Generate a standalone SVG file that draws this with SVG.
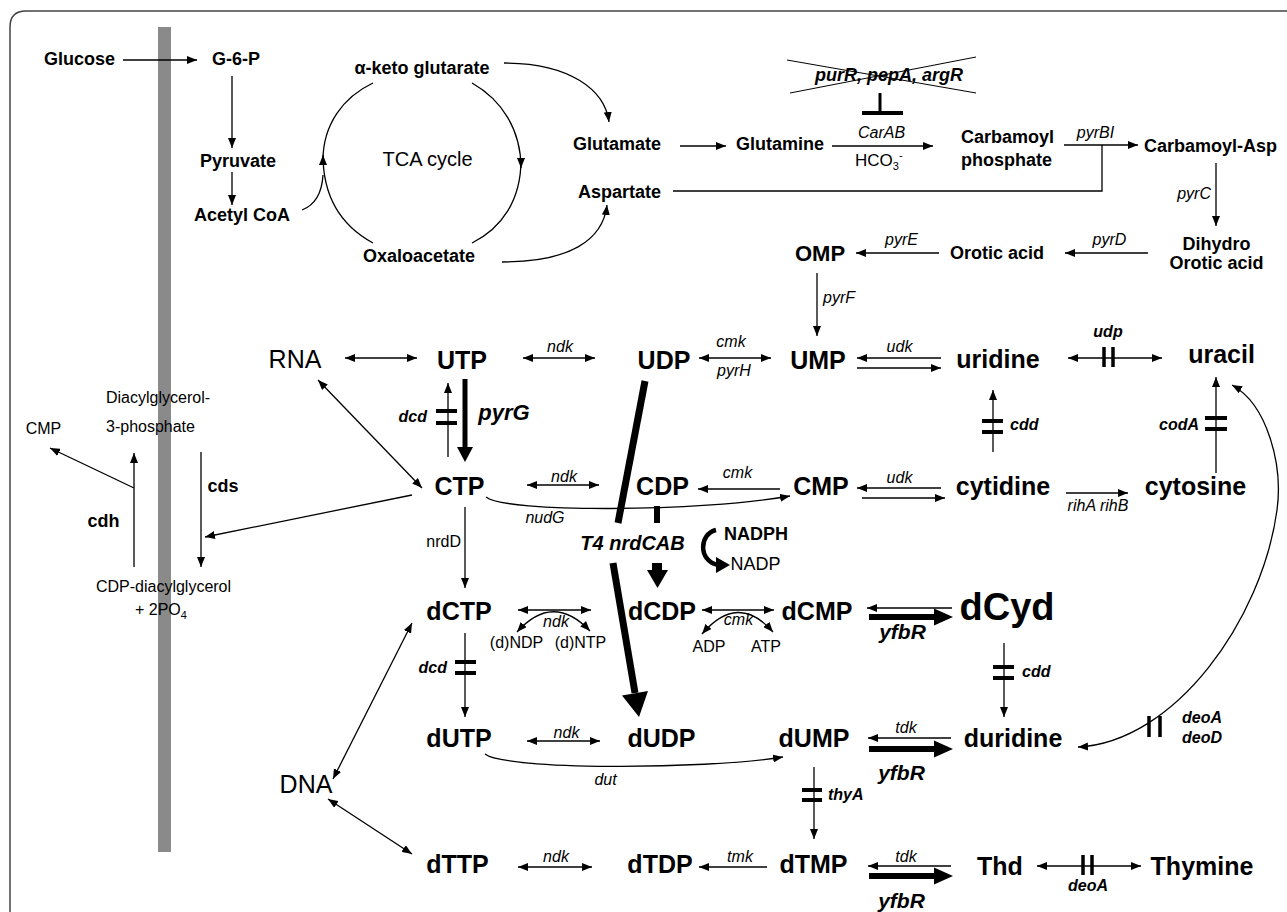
<svg xmlns="http://www.w3.org/2000/svg" width="1287" height="912" viewBox="0 0 1287 912">
<defs>
<marker id="ah" viewBox="0 0 10 8" refX="10" refY="4" markerWidth="10" markerHeight="8" markerUnits="userSpaceOnUse" orient="auto-start-reverse"><path d="M0,0L10,4L0,8z" fill="#000"/></marker>
<style>
text{font-family:"Liberation Sans",Arial,sans-serif;fill:#000}
.n{font-size:25px;font-weight:bold;text-anchor:middle}
.m{font-size:18px;font-weight:bold;text-anchor:middle}
.e{font-size:16px;font-style:italic;text-anchor:middle}
.eb{font-size:16px;font-style:italic;font-weight:bold}
.r{font-size:16px}
.big{font-size:25px;text-anchor:middle}
.c{stroke:#000;stroke-width:1.3;fill:none}
.a{marker-end:url(#ah)}
.d{marker-start:url(#ah);marker-end:url(#ah)}
.bar{stroke:#000;stroke-width:4;fill:none}
.vbar{stroke:#000;stroke-width:3.5;fill:none}
.thick{stroke:#000;fill:none}
</style>
</defs>
<rect width="1287" height="912" fill="#fff"/>
<path d="M10,912 L10,27 Q10,11 26,11 L1287,11" fill="none" stroke="#444" stroke-width="1.5"/>
<rect id="membrane" x="158" y="27" width="13" height="825" fill="#8a8a8a"/>

<g id="connectors">
<path class="c a" d="M123,60 H197"/>
<path class="c a" d="M232,76 V148"/>
<path class="c a" d="M232,172 V205"/>
<path class="c" d="M302,210 C315,205 322,192 323,175"/>
<path class="c a" d="M373,243 C340,225 323,195 323,155"/>
<path class="c" d="M323,160 C323,125 343,97 373,83"/>
<path class="c a" d="M472,83 C502,100 521,130 521,168"/>
<path class="c" d="M521,160 C521,200 502,228 472,243"/>
<path class="c a" d="M504,63 C570,63 605,90 609,122"/>
<path class="c a" d="M502,262 C570,262 603,240 607,205"/>
<path class="c a" d="M680,146 H726"/>
<path class="c a" d="M832,146 H933"/>
<path class="c a" d="M1064,145 H1138"/>
<path class="c" d="M673,191 H1102 V145"/>
<path class="c a" d="M1216,163 V226"/>
<path class="c a" d="M1148,253 H1065"/>
<path class="c a" d="M939,253 H856"/>
<path class="c a" d="M817,273 V336"/>
<!-- inhibition -->
<path d="M787,60 L976,93 M790,93 L976,57" stroke="#000" stroke-width="1" fill="none"/>
<path d="M880,93 V112" stroke="#000" stroke-width="3" fill="none"/>
<path d="M862,113 H903" stroke="#000" stroke-width="4" fill="none"/>
<!-- row 1 -->
<path class="c d" d="M345,358 H417"/>
<path class="c d" d="M523,358 H595"/>
<path class="c d" d="M699,358 H771"/>
<path class="c a" d="M941,358 H857"/>
<path class="c a" d="M857,368 H941"/>
<path class="c d" d="M1068,358 H1162"/>
<path class="vbar" d="M1104,347 V367 M1113,347 V367"/>
<path class="c d" d="M318,380 L422,488"/>
<path class="c a" d="M412,495 L205,537"/>
<path class="c a" d="M134,567 V453"/>
<path class="c a" d="M134,488 L50,448"/>
<path class="c a" d="M201,452 V567"/>
<!-- UTP/CTP -->
<path class="c a" d="M448,457 V383"/>
<path class="bar" d="M436,411 H457 M436,423 H457"/>
<path class="thick" stroke-width="5" d="M465,379 V449"/>
<polygon points="457,447 473,447 465,462" fill="#000"/>
<path class="thick" stroke-width="7" d="M645,381 L618,523"/>
<path class="thick" stroke-width="7" d="M613,563 L635,693"/>
<polygon points="622,695.5 648,691 639,717" fill="#000"/>
<path class="c d" d="M527,485 H599"/>
<path class="c a" d="M780,489 H698"/>
<path class="c a" d="M486,497 C505,513 700,512 790,496"/>
<path class="thick" stroke-width="6" d="M657,506 V523"/>
<rect x="652" y="563" width="10" height="8" fill="#000"/>
<polygon points="647,570 668,570 657.5,588" fill="#000"/>
<path class="thick" stroke-width="4.5" d="M716,530 C699,534 698,561 718,565"/>
<polygon points="716,557 730,565 716,573" fill="#000"/>
<path class="c a" d="M993,452 V390"/>
<path class="bar" d="M982,421 H1003 M982,432 H1003"/>
<path class="c a" d="M1216,473 V377"/>
<path class="bar" d="M1205,418 H1227 M1205,429 H1227"/>
<path class="c a" d="M941,488 H857"/>
<path class="c a" d="M862,498 H945"/>
<path class="c a" d="M1066,493 H1128"/>
<path class="c a" d="M465,507 V588"/>
<!-- dCTP row -->
<path class="c d" d="M518,610 H591"/>
<path class="c d" d="M517,632 Q553,592 590,631"/>
<path class="c d" d="M702,610 H774"/>
<path class="c d" d="M702,634 Q738,592 773,632"/>
<path class="c a" d="M952,608 H867"/>
<path class="thick" stroke-width="6" d="M869,617 H936"/>
<polygon points="934,608.5 953,617 934,625.5" fill="#000"/>
<path class="c a" d="M1004,643 V717"/>
<path class="bar" d="M993,667 H1014 M993,678 H1014"/>
<path class="c a" d="M465,633 V717"/>
<path class="bar" d="M455,662 H476 M455,673 H476"/>
<!-- dUTP row -->
<path class="c d" d="M527,741 H600"/>
<path class="c a" d="M485,754 C505,770 700,770 783,757"/>
<path class="c a" d="M814,767 V839"/>
<path class="bar" d="M802,790 H822 M802,800 H822"/>
<path class="c a" d="M951,738 H868"/>
<path class="thick" stroke-width="6" d="M869,749 H936"/>
<polygon points="934,740.5 953,749 934,757.5" fill="#000"/>
<path class="c d" d="M1078,747 C1175,742 1262,620 1277,510 C1283,466 1268,405 1232,385"/>
<path class="vbar" d="M1149,716 V737 M1160,716 V737"/>
<!-- dTTP row -->
<path class="c d" d="M518,867 H592"/>
<path class="c a" d="M767,867 H699"/>
<path class="c a" d="M951,866 H868"/>
<path class="thick" stroke-width="6" d="M869,876 H936"/>
<polygon points="934,867.5 953,876 934,884.5" fill="#000"/>
<path class="c d" d="M1037,866 H1141"/>
<path class="vbar" d="M1083,855 V875 M1092,855 V875"/>
<path class="c d" d="M333,779 L412,623"/>
<path class="c d" d="M328,799 L412,854"/>
</g>

<g id="edge-labels">
<text class="e" x="881.5" y="138">CarAB</text>
<text x="855" y="166" style="font-size:17px">HCO<tspan dy="4" style="font-size:11px">3</tspan><tspan dy="-11" style="font-size:11px">-</tspan></text>
<text x="889" y="81" style="font-size:18px;font-weight:bold;font-style:italic;text-anchor:middle">purR, pepA, argR</text>
<text class="e" x="1095.5" y="138">pyrBI</text>
<text class="e" x="1211" y="199" style="text-anchor:end">pyrC</text>
<text class="e" x="1109.5" y="245">pyrD</text>
<text class="e" x="901.5" y="245">pyrE</text>
<text class="e" x="823" y="303" style="text-anchor:start">pyrF</text>
<text class="e" x="560" y="352">ndk</text>
<text class="e" x="731" y="347">cmk</text>
<text class="e" x="734" y="376">pyrH</text>
<text class="e" x="899.5" y="352">udk</text>
<text class="eb" x="1108" y="337" style="text-anchor:middle">udp</text>
<text class="eb" x="427" y="422" style="text-anchor:end">dcd</text>
<text x="504" y="420" style="font-size:22px;font-weight:bold;font-style:italic;text-anchor:middle">pyrG</text>
<text class="eb" x="1010" y="430">cdd</text>
<text class="eb" x="1199" y="430" style="text-anchor:end">codA</text>
<text class="e" x="564" y="482">ndk</text>
<text class="e" x="737.5" y="478">cmk</text>
<text class="e" x="899.5" y="483">udk</text>
<text class="e" x="1098" y="511">rihA rihB</text>
<text class="e" x="545" y="523">nudG</text>
<text class="r" x="461" y="547" style="text-anchor:end">nrdD</text>
<text x="632.5" y="550" style="font-size:20px;font-weight:bold;font-style:italic;text-anchor:middle">T4 nrdCAB</text>
<text x="756" y="540" style="font-size:18px;font-weight:bold;text-anchor:middle">NADPH</text>
<text x="755.5" y="570" style="font-size:18px;text-anchor:middle">NADP</text>
<text class="e" x="556" y="627">ndk</text>
<text class="r" x="516.5" y="648" style="text-anchor:middle">(d)NDP</text>
<text class="r" x="580.5" y="648" style="text-anchor:middle">(d)NTP</text>
<text class="e" x="738.5" y="625">cmk</text>
<text class="r" x="709" y="652" style="text-anchor:middle">ADP</text>
<text class="r" x="766" y="652" style="text-anchor:middle">ATP</text>
<text x="902.5" y="639" style="font-size:21px;font-weight:bold;font-style:italic;text-anchor:middle">yfbR</text>
<text class="eb" x="447" y="673" style="text-anchor:end">dcd</text>
<text class="eb" x="1022" y="677">cdd</text>
<text class="e" x="566.5" y="738">ndk</text>
<text class="e" x="906" y="733">tdk</text>
<text x="901.5" y="780" style="font-size:21px;font-weight:bold;font-style:italic;text-anchor:middle">yfbR</text>
<text class="e" x="605.5" y="785">dut</text>
<text class="eb" x="828" y="800">thyA</text>
<text class="eb" x="1182" y="723">deoA</text>
<text class="eb" x="1182" y="743">deoD</text>
<text class="e" x="556" y="862">ndk</text>
<text class="e" x="740" y="862">tmk</text>
<text class="e" x="906" y="862">tdk</text>
<text x="901.5" y="908" style="font-size:21px;font-weight:bold;font-style:italic;text-anchor:middle">yfbR</text>
<text class="eb" x="1088" y="891" style="text-anchor:middle">deoA</text>
<text x="223" y="492" style="font-size:18px;font-weight:bold;text-anchor:middle">cds</text>
<text x="103.5" y="527" style="font-size:18px;font-weight:bold;text-anchor:middle">cdh</text>
</g>

<g id="node-glucose"><text class="m" x="79.5" y="65">Glucose</text></g>
<g id="node-g6p"><text class="m" x="236" y="65">G-6-P</text></g>
<g id="node-pyruvate"><text class="m" x="238" y="167">Pyruvate</text></g>
<g id="node-acetylcoa"><text class="m" x="242" y="221">Acetyl CoA</text></g>
<g id="node-tca"><text x="427.5" y="166" style="font-size:20px;text-anchor:middle">TCA cycle</text></g>
<g id="node-akg"><text class="m" x="422" y="74">α-keto glutarate</text></g>
<g id="node-oxaloacetate"><text class="m" x="419" y="262">Oxaloacetate</text></g>
<g id="node-glutamate"><text class="m" x="617" y="150">Glutamate</text></g>
<g id="node-aspartate"><text class="m" x="619.5" y="198">Aspartate</text></g>
<g id="node-glutamine"><text class="m" x="780" y="150">Glutamine</text></g>
<g id="node-carbamoylp"><text class="m" x="961" y="143" style="text-anchor:start">Carbamoyl</text><text class="m" x="961" y="166" style="text-anchor:start">phosphate</text></g>
<g id="node-carbamoylasp"><text class="m" x="1210.5" y="152">Carbamoyl-Asp</text></g>
<g id="node-dihydro"><text class="m" x="1216.5" y="250">Dihydro</text><text class="m" x="1216.5" y="269">Orotic acid</text></g>
<g id="node-orotic"><text class="m" x="997" y="259">Orotic acid</text></g>
<g id="node-omp"><text x="820" y="261" style="font-size:22px;font-weight:bold;text-anchor:middle">OMP</text></g>

<g id="node-rna"><text class="big" x="295" y="368">RNA</text></g>
<g id="node-utp"><text class="n" x="462" y="369">UTP</text></g>
<g id="node-udp"><text class="n" x="664" y="369">UDP</text></g>
<g id="node-ump"><text class="n" x="818" y="369">UMP</text></g>
<g id="node-uridine"><text class="n" x="998" y="368">uridine</text></g>
<g id="node-uracil"><text class="n" x="1221.5" y="363">uracil</text></g>

<g id="node-ctp"><text class="n" x="459.5" y="495">CTP</text></g>
<g id="node-cdp"><text class="n" x="662.5" y="495">CDP</text></g>
<g id="node-cmp"><text class="n" x="821" y="495">CMP</text></g>
<g id="node-cytidine"><text class="n" x="1003" y="495">cytidine</text></g>
<g id="node-cytosine"><text class="n" x="1195.5" y="495">cytosine</text></g>

<g id="node-dag3p"><text class="r" x="106" y="403">Diacylglycerol-</text><text class="r" x="106" y="432">3-phosphate</text></g>
<g id="node-cmp-left"><text class="r" x="43.5" y="434" style="text-anchor:middle">CMP</text></g>
<g id="node-cdpdag"><text class="r" x="163.5" y="592" style="text-anchor:middle">CDP-diacylglycerol</text><text class="r" x="135" y="615">+ 2PO<tspan dy="4" style="font-size:11px">4</tspan></text></g>

<g id="node-dctp"><text class="n" x="459" y="620">dCTP</text></g>
<g id="node-dcdp"><text class="n" x="662" y="620">dCDP</text></g>
<g id="node-dcmp"><text class="n" x="817" y="620">dCMP</text></g>
<g id="node-dcyd"><text x="1007" y="620" style="font-size:38px;font-weight:bold;text-anchor:middle">dCyd</text></g>

<g id="node-dutp"><text class="n" x="459" y="747">dUTP</text></g>
<g id="node-dudp"><text class="n" x="661.5" y="747">dUDP</text></g>
<g id="node-dump"><text class="n" x="814" y="747">dUMP</text></g>
<g id="node-duridine"><text class="n" x="1013" y="747">duridine</text></g>
<g id="node-dna"><text class="big" x="306" y="793">DNA</text></g>

<g id="node-dttp"><text class="n" x="457.5" y="873">dTTP</text></g>
<g id="node-dtdp"><text class="n" x="660" y="873">dTDP</text></g>
<g id="node-dtmp"><text class="n" x="813.5" y="873">dTMP</text></g>
<g id="node-thd"><text class="n" x="1000" y="875">Thd</text></g>
<g id="node-thymine"><text class="n" x="1202" y="875">Thymine</text></g>
</svg>
